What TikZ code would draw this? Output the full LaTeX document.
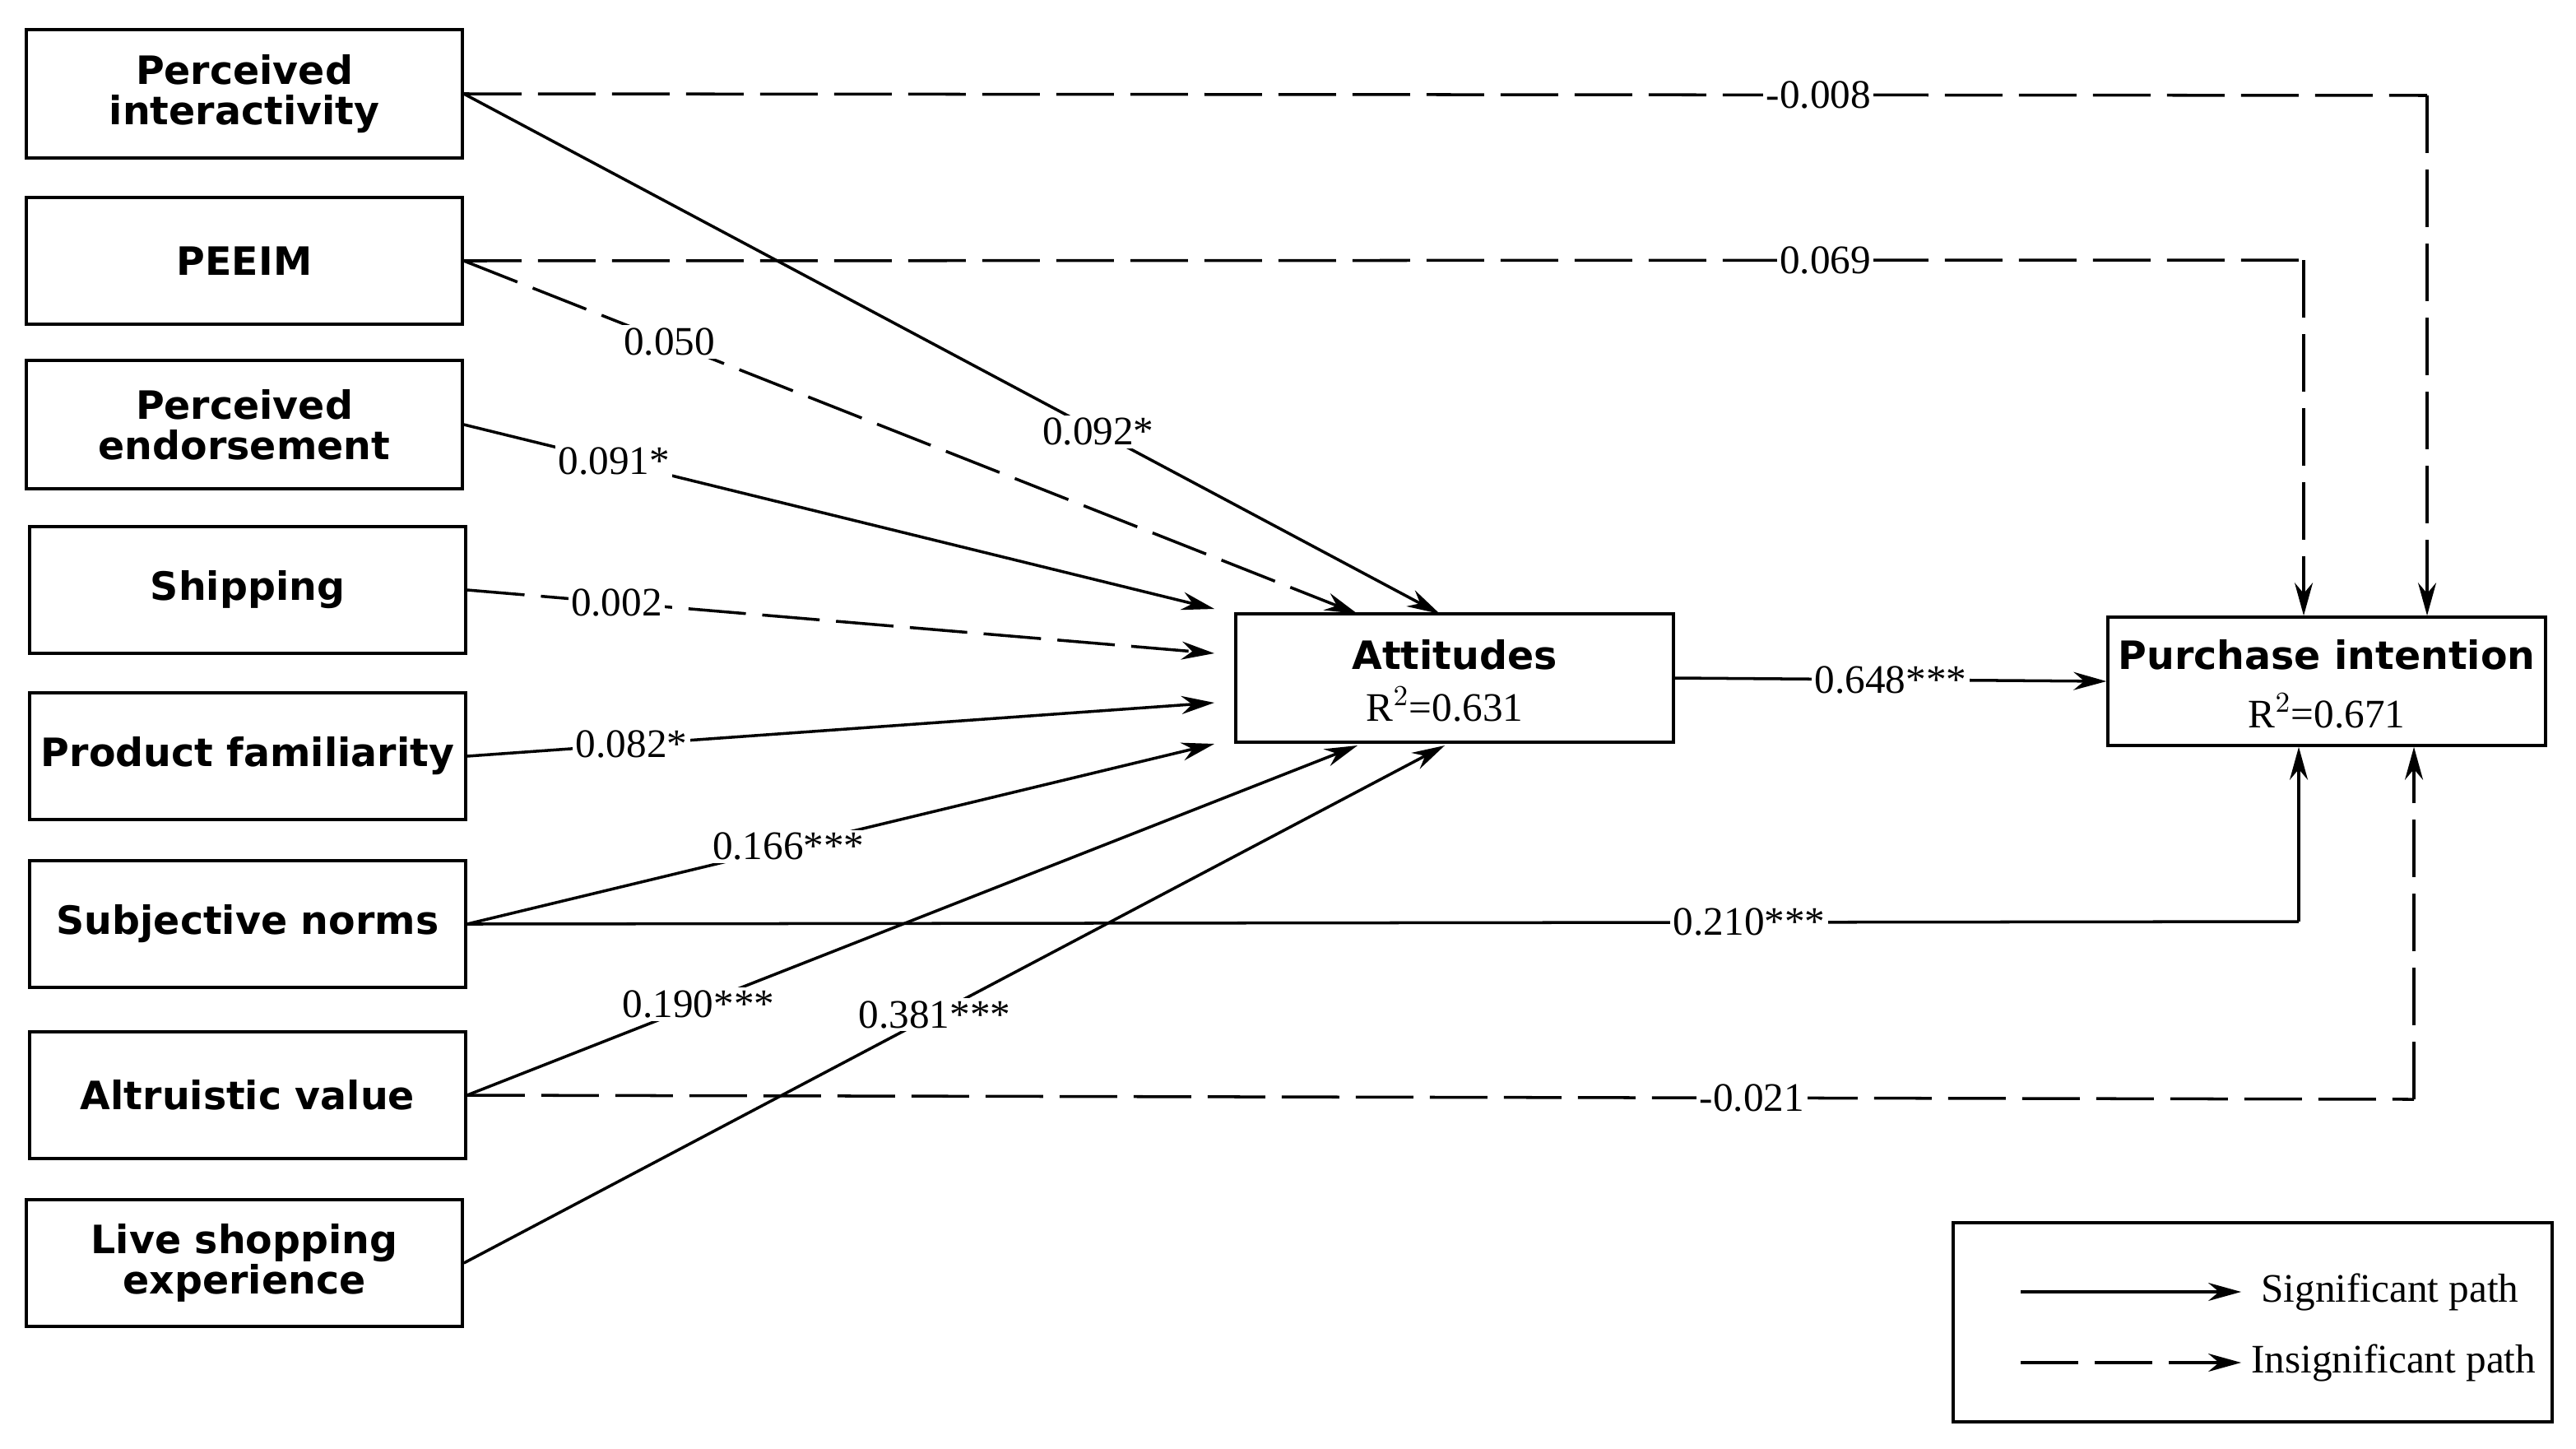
\documentclass[tikz,border=0pt]{standalone}
\usepackage{fontspec}
\setmainfont{Liberation Serif}
\newfontfamily\bx{DejaVu Sans}
\usetikzlibrary{arrows.meta}
\begin{document}
\begin{tikzpicture}[x=0.2mm,y=-0.2mm,
 box/.style={draw,line width=1pt,inner sep=0pt,font=\bx\bfseries\fontsize{13.5}{14}\selectfont,align=center},
 btxt/.style={inner sep=0pt,font=\bx\bfseries\fontsize{13.5}{14}\selectfont},
 sig/.style={line width=1pt,-{Stealth[length=4mm,width=2.2mm]}},
 ins/.style={sig,dash pattern=on 7mm off 2mm},
 lab/.style={fill=white,inner sep=1pt,font=\fontsize{14}{14}\selectfont}]
\useasboundingbox (0,0) rectangle (1565.5,880);
\newcommand\bxn[6]{\node[box,minimum width=#4*0.2mm-#2*0.2mm,minimum height=#5*0.2mm-#3*0.2mm] (#1) at ({(#2+#4)/2},{(#3+#5)/2}) {#6};}
\bxn{pi}{16}{18}{281}{96}{Perceived\\interactivity}
\bxn{pe}{16}{120}{281}{197}{PEEIM}
\bxn{en}{16}{219}{281}{297}{Perceived\\endorsement}
\bxn{sh}{18}{320}{283}{397}{Shipping}
\bxn{pf}{18}{421}{283}{498}{Product familiarity}
\bxn{sn}{18}{523}{283}{600}{Subjective norms}
\bxn{av}{18}{627}{283}{704}{Altruistic value}
\bxn{ls}{16}{729}{281}{806}{Live shopping\\experience}
\bxn{at}{751}{373}{1017}{451}{}
\bxn{pu}{1281}{375}{1547}{453}{}
\node[btxt] (att) at (884,398) {Attitudes};
\node[font=\fontsize{14}{14}\selectfont] (atr) at (878,428) {R$^2$=0.631};
\node[btxt] (put) at (1414,398) {Purchase intention};
\node[font=\fontsize{14}{14}\selectfont] (pur) at (1414,432) {R$^2$=0.671};
\node[draw,line width=1pt,minimum width=72.8mm,minimum height=24.2mm,inner sep=0pt] (lg) at (1369,803.5) {};
\coordinate (a1) at (875,373); \coordinate (a2) at (825,373); \coordinate (a3) at (738,370);
\coordinate (a4) at (738,397); \coordinate (a5) at (738,427); \coordinate (a6) at (738,452);
\coordinate (a7) at (825,453); \coordinate (a8) at (878,453);
\coordinate (t1) at (1475,58); \coordinate (t2) at (1400,158);
\coordinate (t3) at (1397,560); \coordinate (t4) at (1467,668);
\draw[sig] (pi.east) -- node[lab,pos=0.65] {0.092*} (a1);
\draw[ins] (pe.east) -- node[lab,pos=0.23] {0.050} (a2);
\draw[sig] (en.east) -- node[lab,pos=0.2] {0.091*} (a3);
\draw[ins] (sh.east) -- node[lab,pos=0.2] {0.002} (a4);
\draw[sig] (pf.east) -- node[lab,pos=0.22] {0.082*} (a5);
\draw[sig] (sn.east) -- node[lab,pos=0.43] {0.166***} (a6);
\draw[sig] (av.east) -- node[lab,pos=0.26] {0.190***} (a7);
\draw[sig] (ls.east) -- node[lab,pos=0.48] {0.381***} (a8);
\draw[ins,-] (pi.east) -- node[lab,pos=0.69] {-0.008} (t1);
\draw[ins] (t1) -- (pu.north -| t1);
\draw[ins,-] (pe.east) -- node[lab,pos=0.74] {0.069} (t2);
\draw[ins] (t2) -- (pu.north -| t2);
\draw[sig,-] (sn.east) -- node[lab,pos=0.7] {0.210***} (t3);
\draw[sig] (t3) -- (pu.south -| t3);
\draw[ins,-] (av.east) -- node[lab,pos=0.66] {-0.021} (t4);
\draw[ins] (t4) -- (pu.south -| t4);
\draw[sig] (at.east) -- node[lab] {0.648***} (pu.west);
\coordinate (l1) at (1228,785); \coordinate (l2) at (1362,785);
\coordinate (l3) at (1228,828); \coordinate (l4) at (1362,828);
\draw[sig] (l1) -- (l2);
\draw[ins] (l3) -- (l4);
\node[font=\fontsize{14}{14}\selectfont,anchor=west] (s1) at (1368,785) {Significant path};
\node[font=\fontsize{14}{14}\selectfont,anchor=west] (s2) at (1362,828) {Insignificant path};
\end{tikzpicture}
\end{document}
